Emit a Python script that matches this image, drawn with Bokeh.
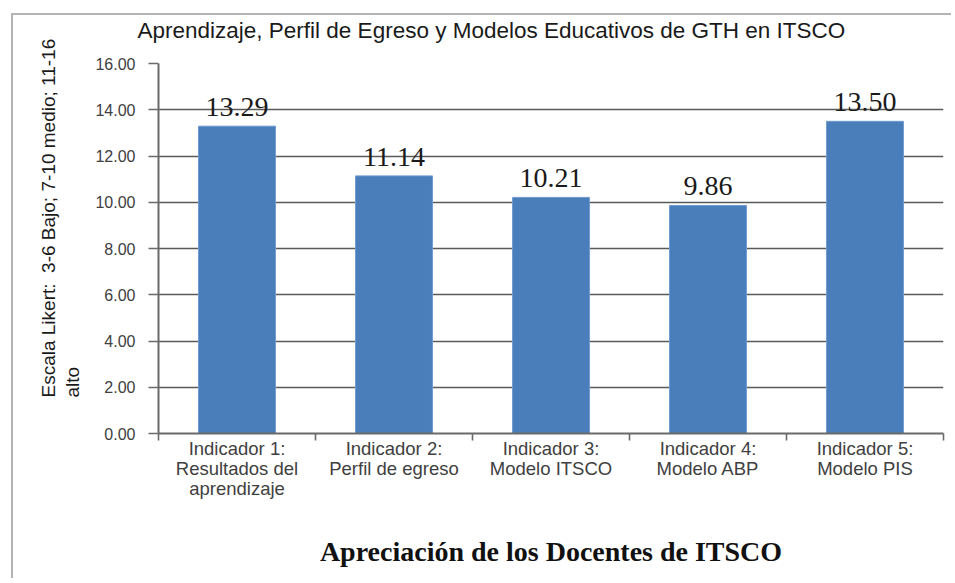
from bokeh.plotting import figure
from bokeh.models import FixedTicker, Range1d, ColumnDataSource, Title
from bokeh.core.properties import value
from bokeh.embed import file_html
from bokeh.resources import INLINE

# ---- data ----
categories = [
    "Indicador 1:\nResultados del\naprendizaje",
    "Indicador 2:\nPerfil de egreso",
    "Indicador 3:\nModelo ITSCO",
    "Indicador 4:\nModelo ABP",
    "Indicador 5:\nModelo PIS",
]
values = [13.29, 11.14, 10.21, 9.86, 13.50]
value_labels = ["13.29", "11.14", "10.21", "9.86", "13.50"]
y_ticks = [0, 2, 4, 6, 8, 10, 12, 14, 16]
title_text = "Aprendizaje, Perfil de Egreso y Modelos Educativos de GTH en ITSCO"
ylabel_text = "Escala Likert:\u00a0 3-6 Bajo; 7-10 medio; 11-16\nalto"
xlabel_text = "Apreciación de los Docentes de ITSCO"

positions = [i + 0.5 for i in range(len(categories))]
boundaries = list(range(len(categories) + 1))

src = ColumnDataSource(dict(x=positions, top=values, lab=value_labels))

p = figure(width=940, height=565, output_backend="svg", toolbar_location=None,
           x_range=Range1d(0, len(categories)), y_range=Range1d(0, 16))
p.min_border_left = 145
p.min_border_right = 10
p.min_border_top = 48
p.min_border_bottom = 147
p.outline_line_color = None
p.background_fill_color = "white"
p.border_fill_color = "white"

p.vbar(x="x", top="top", width=0.49, source=src, fill_color="#4a7ebb",
       line_color="#6f9bd0", line_width=1)

p.text(x="x", y="top", text="lab", source=src, text_align="center",
       text_baseline="alphabetic", y_offset=-19,
       text_font=value("Liberation Serif"), text_font_size="28px",
       text_color="#1a1a1a")

# grid
p.xgrid.grid_line_color = None
p.ygrid.ticker = FixedTicker(ticks=y_ticks)
p.ygrid.grid_line_color = "#5a5a5a"
p.ygrid.grid_line_width = 1.6

# y axis
p.yaxis.ticker = FixedTicker(ticks=y_ticks)
p.yaxis.major_label_overrides = {t: f"{t:.2f}" for t in y_ticks}
p.yaxis.axis_line_color = "#6a6a6a"
p.yaxis.axis_line_width = 2
p.yaxis.major_tick_line_color = "#6a6a6a"
p.yaxis.major_tick_line_width = 1.6
p.yaxis.major_tick_out = 10
p.yaxis.major_tick_in = 0
p.yaxis.minor_tick_line_color = None
p.yaxis.major_label_text_font = "Liberation Sans"
p.yaxis.major_label_text_font_size = "16px"
p.yaxis.major_label_text_color = "#404040"
p.yaxis.major_label_standoff = 13

# x axis: labels at centers, ticks at boundaries
p.xaxis.ticker = FixedTicker(ticks=positions, minor_ticks=boundaries)
p.xaxis.major_label_overrides = {pos: c for pos, c in zip(positions, categories)}
p.xaxis.axis_line_color = "#6a6a6a"
p.xaxis.axis_line_width = 2
p.xaxis.major_tick_line_color = None
p.xaxis.major_tick_out = 0
p.xaxis.major_tick_in = 0
p.xaxis.minor_tick_line_color = "#6a6a6a"
p.xaxis.minor_tick_line_width = 1.6
p.xaxis.minor_tick_out = 7
p.xaxis.minor_tick_in = 0
p.xaxis.major_label_text_font = "Liberation Sans"
p.xaxis.major_label_text_font_size = "18.5px"
p.xaxis.major_label_text_line_height = 0.97
p.xaxis.major_label_text_color = "#404040"
p.xaxis.major_label_standoff = -3
p.xaxis.axis_label = xlabel_text
p.xaxis.axis_label_text_font = "Liberation Serif"
p.xaxis.axis_label_text_font_style = "bold"
p.xaxis.axis_label_text_font_size = "28px"
p.xaxis.axis_label_text_color = "#111111"
p.xaxis.axis_label_standoff = 34

# title: spacer panel next to the frame, then the real title above it
p.title.text = ""
p.title.standoff = 0
p.add_layout(Title(text=" ", text_font_size="1px", standoff=18), "above")
p.add_layout(Title(text=title_text, align="left", offset=-21, standoff=0,
                   text_font="Liberation Sans", text_font_size="22.5px",
                   text_font_style="normal", text_color="#1a1a1a"), "above")

# y label (two lines, left aligned)
p.add_layout(Title(text=ylabel_text, align="left", offset=36, standoff=18,
                   text_font="Liberation Sans", text_font_size="19px",
                   text_font_style="normal", text_color="#1a1a1a",
                   text_line_height=1.15), "left")

p.styles = {"border-left": "2px solid #b4b4b4", "border-top": "2px solid #b4b4b4",
            "margin-left": "11px", "margin-top": "13px"}

open("out.html", "w").write(file_html(p, INLINE))
